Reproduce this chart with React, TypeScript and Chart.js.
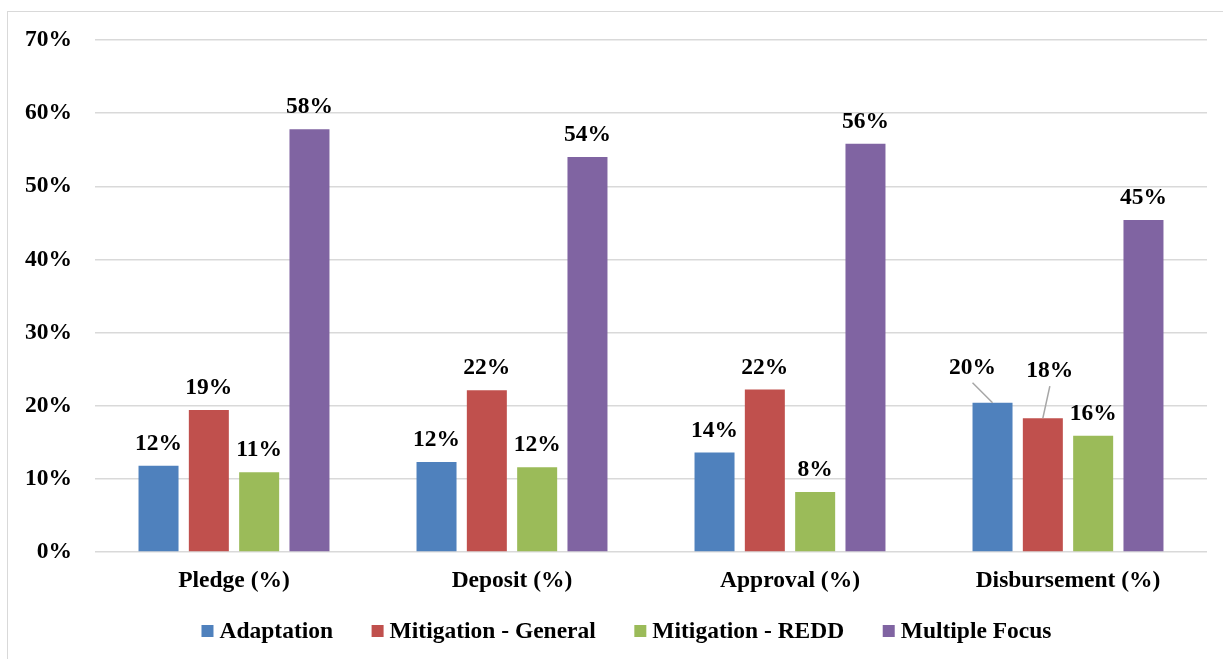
import { useEffect, useRef } from "react";
import { Chart, registerables } from "chart.js";

Chart.register(...registerables);

// Shares of funding by thematic focus, per funding stage
const categories = ["Pledge (%)", "Deposit (%)", "Approval (%)", "Disbursement (%)"];
const adaptation = [0.118, 0.123, 0.136, 0.204];
const mitigationGeneral = [0.194, 0.221, 0.222, 0.183];
const mitigationRedd = [0.109, 0.116, 0.082, 0.159];
const multipleFocus = [0.578, 0.54, 0.558, 0.454];
const seriesNames = ["Adaptation", "Mitigation - General", "Mitigation - REDD", "Multiple Focus"];
const seriesColors = ["#4f81bd", "#c0504d", "#9bbb59", "#8064a2"];
const yMin = 0;
const yMax = 0.7;
const yStep = 0.1;

const FONT_FAMILY = '"Liberation Serif", "Times New Roman", Times, serif';
const FONT_SIZE = 23.5;
const FONT = `bold ${FONT_SIZE}px ${FONT_FAMILY}`;

// Legend geometry: swatch size, swatch-to-text gap, gap between entries, row centre
const LEGEND = { box: 12, textGap: 6, itemGap: 38.5, centerX: 626.5, centerY: 631 };

// Labels that sit away from their bar and are tied back to it by a leader line
const labelShifts: Record<string, { dx: number; dy: number }> = {
  "0:3": { dx: -20, dy: -13 },
  "1:3": { dx: 7, dy: -25 },
};

const pct = (v: number) => `${Math.round(v * 100)}%`;

const valueLabels = {
  id: "valueLabels",
  afterDatasetsDraw(chart: any) {
    const ctx = chart.ctx as CanvasRenderingContext2D;
    ctx.save();
    ctx.font = FONT;
    ctx.textAlign = "center";
    ctx.textBaseline = "alphabetic";
    chart.data.datasets.forEach((ds: any, di: number) => {
      const meta = chart.getDatasetMeta(di);
      meta.data.forEach((bar: any, i: number) => {
        const v = ds.data[i] as number;
        const { x, y } = bar.getProps(["x", "y"], true);
        const shift = labelShifts[`${di}:${i}`];
        const lx = x + (shift ? shift.dx : 0);
        const ly = y - 16 + (shift ? shift.dy : 0);
        if (shift) {
          ctx.strokeStyle = "#a6a6a6";
          ctx.lineWidth = 1.5;
          ctx.beginPath();
          ctx.moveTo(lx, ly + 9);
          ctx.lineTo(x, y);
          ctx.stroke();
        }
        ctx.fillStyle = "#000";
        ctx.fillText(pct(v), lx, ly);
      });
    });
    ctx.restore();
  },
};

// Single-row legend under the category axis, built from the datasets
const bottomLegend = {
  id: "bottomLegend",
  afterDraw(chart: any) {
    const ctx = chart.ctx as CanvasRenderingContext2D;
    ctx.save();
    ctx.font = FONT;
    const items = chart.data.datasets.map((ds: any) => ({
      label: ds.label as string,
      color: ds.backgroundColor as string,
      w: ctx.measureText(ds.label).width,
    }));
    const total =
      items.reduce((s: number, it: any) => s + LEGEND.box + LEGEND.textGap + it.w, 0) +
      LEGEND.itemGap * (items.length - 1);
    let x = LEGEND.centerX - total / 2;
    ctx.textBaseline = "middle";
    ctx.textAlign = "left";
    items.forEach((it: any) => {
      ctx.fillStyle = it.color;
      ctx.fillRect(x, LEGEND.centerY - LEGEND.box / 2, LEGEND.box, LEGEND.box);
      ctx.fillStyle = "#000";
      ctx.fillText(it.label, x + LEGEND.box + LEGEND.textGap, LEGEND.centerY + 1);
      x += LEGEND.box + LEGEND.textGap + it.w + LEGEND.itemGap;
    });
    ctx.restore();
  },
};

export default function App() {
  const canvasRef = useRef<HTMLCanvasElement | null>(null);

  useEffect(() => {
    if (!canvasRef.current) return;
    const font = { family: FONT_FAMILY, size: FONT_SIZE, weight: "bold" as const };
    const series = [adaptation, mitigationGeneral, mitigationRedd, multipleFocus];
    const chart = new Chart(canvasRef.current, {
      type: "bar",
      data: {
        labels: categories,
        datasets: series.map((values, k) => ({
          label: seriesNames[k],
          data: values,
          backgroundColor: seriesColors[k],
          borderWidth: 0,
          categoryPercentage: 0.724,
          barPercentage: 0.795,
        })),
      },
      options: {
        responsive: false,
        animation: false,
        devicePixelRatio: 1,
        layout: { padding: { top: 40, right: 16, left: 0, bottom: 67 } },
        plugins: {
          tooltip: { enabled: false },
          legend: { display: false },
        },
        scales: {
          x: {
            grid: { display: false },
            border: { display: false },
            ticks: { color: "#000", font, padding: 7 },
            afterFit: (s: any) => {
              s.height = 40;
            },
          },
          y: {
            min: yMin,
            max: yMax,
            border: { display: false },
            grid: { color: "#d9d9d9", lineWidth: 1.5, drawTicks: false },
            ticks: {
              stepSize: yStep,
              color: "#000",
              font,
              padding: 23,
              callback: (v: any) => pct(Number(v)),
            },
            afterFit: (s: any) => {
              s.width = 95;
            },
          },
        },
      },
      plugins: [valueLabels, bottomLegend],
    });
    return () => chart.destroy();
  }, []);

  return (
    <div style={{ position: "fixed", left: 0, top: 0, width: 1223, height: 659, background: "#fff", overflow: "hidden" }}>
      <div
        style={{
          position: "absolute",
          left: 7,
          top: 11,
          width: 1300,
          height: 700,
          borderTop: "1.5px solid #d9d9d9",
          borderLeft: "1.5px solid #d9d9d9",
          pointerEvents: "none",
        }}
      />
      <canvas ref={canvasRef} width={1223} height={659} style={{ position: "absolute", left: 0, top: 0, display: "block" }} />
    </div>
  );
}
